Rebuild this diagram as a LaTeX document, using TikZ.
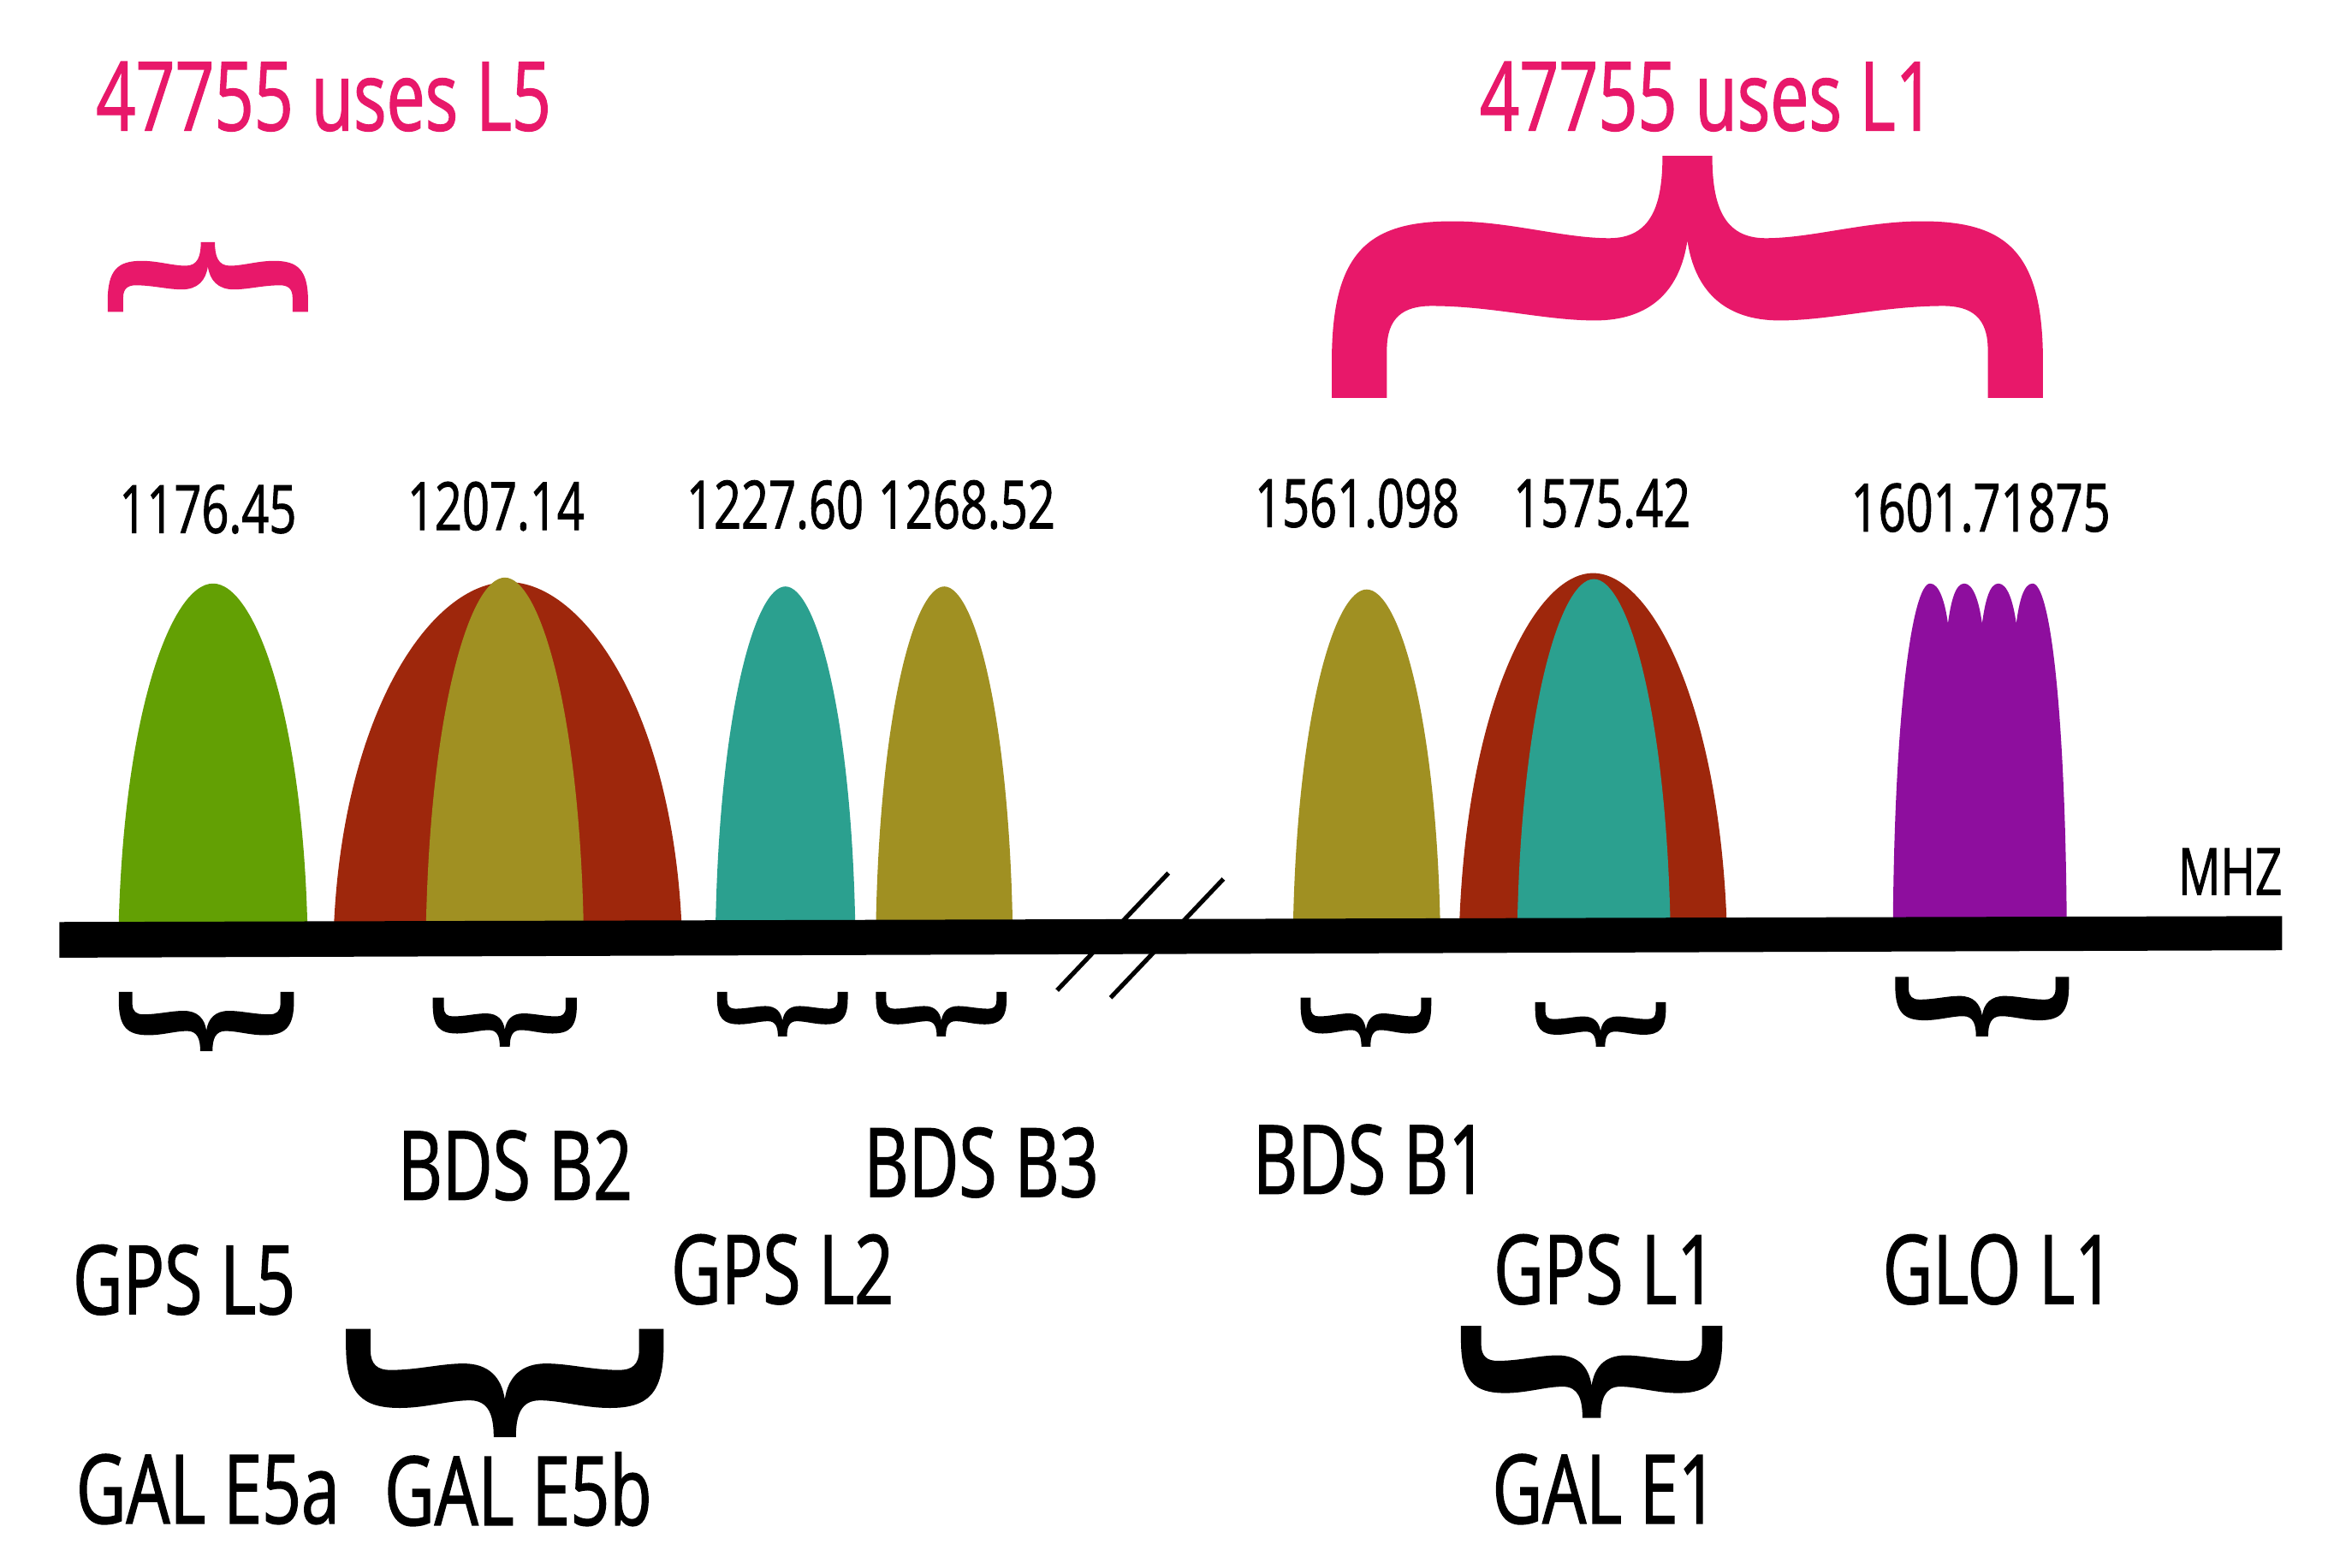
\documentclass[tikz,border=0pt]{standalone}
\usepackage{fontspec}
\setmainfont[FakeStretch=0.72,FakeBold=1.2]{Open Sans}
\usepackage{tikz}
\definecolor{bandgreen}{HTML}{63A004}
\definecolor{bandred}{HTML}{9E270C}
\definecolor{bandolive}{HTML}{A09022}
\definecolor{bandteal}{HTML}{2BA08F}
\definecolor{bandpurple}{HTML}{8E0E9E}
\definecolor{usepink}{HTML}{E8186A}

\newcommand{\bump}[4]{%
\begin{scope}[shift={(#1,-621)},xscale={#2-#1},yscale={621-#3}]
\fill [#4] (0,0) .. controls (0.03,0.62) and (0.28,1) .. (0.5,1) .. controls (0.72,1) and (0.97,0.62) .. (1,0) -- cycle;
\end{scope}}

\newcommand{\curly}[5]{%
\begin{scope}[shift={(#1,-#3)},xscale={#2},yscale={#3-#4}]
\fill [#5] (-1,0) -- (-1,0.15) .. controls (-1,0.6) and (-0.9,0.73) .. (-0.66,0.73) .. controls (-0.5,0.73) and (-0.35,0.66) .. (-0.22,0.66) .. controls (-0.1,0.66) and (-0.07,0.8) .. (-0.07,1) -- (0.07,1) .. controls (0.07,0.8) and (0.1,0.66) .. (0.22,0.66) .. controls (0.35,0.66) and (0.5,0.73) .. (0.66,0.73) .. controls (0.9,0.73) and (1,0.6) .. (1,0.15) -- (1,0) -- (0.845,0) -- (0.845,0.2) .. controls (0.845,0.33) and (0.8,0.38) .. (0.72,0.38) .. controls (0.55,0.38) and (0.4,0.32) .. (0.26,0.32) .. controls (0.1,0.32) and (0.02,0.45) .. (0,0.65) .. controls (-0.02,0.45) and (-0.1,0.32) .. (-0.26,0.32) .. controls (-0.4,0.32) and (-0.55,0.38) .. (-0.72,0.38) .. controls (-0.8,0.38) and (-0.845,0.33) .. (-0.845,0.2) -- (-0.845,0) -- cycle;
\end{scope}}

\begin{document}
\begin{tikzpicture}[x=0.2mm,y=0.2mm]
\tikzstyle{every node}+=[inner sep=0pt]
\tikzstyle{title}=[text=usepink,font=\fontsize{36.7}{40}\selectfont]
\tikzstyle{freq}=[font=\fontsize{25.5}{30}\selectfont]
\tikzstyle{sig}=[font=\fontsize{36.7}{40}\selectfont]
\tikzstyle{unit}=[font=\fontsize{25}{28}\selectfont]
\useasboundingbox (0,0) rectangle (1568,-1056);
\node [title] (useL5) at (218,-65) {47755 uses L5};
\node [title] (useL1) at (1150,-65) {47755 uses L1};
\curly{140}{67.5}{210}{163}{usepink}
\curly{1136.5}{239.5}{268}{105}{usepink}
\node [freq] (f1176) at (140,-343) {1176.45};
\node [freq] (f1207) at (334,-341) {1207.14};
\node [freq] (f1227) at (522,-340) {1227.60};
\node [freq] (f1268) at (651,-340) {1268.52};
\node [freq] (f1561) at (914,-339) {1561.098};
\node [freq] (f1575) at (1079,-339) {1575.42};
\node [freq] (f1601) at (1334,-342) {1601.71875};
\bump{80}{207}{393}{bandgreen}
\bump{225}{459}{392}{bandred}
\bump{287}{393}{389}{bandolive}
\bump{482}{576}{395}{bandteal}
\bump{590}{682}{395}{bandolive}
\bump{871}{970}{397}{bandolive}
\bump{983}{1163}{386}{bandred}
\bump{1022}{1125}{390}{bandteal}
\fill [bandpurple] (1275,-621) .. controls (1276,-480) and (1288,-393) .. (1300,-393) .. controls (1306,-393) and (1310,-405) .. (1312,-420) .. controls (1314,-405) and (1317,-393) .. (1323,-393) .. controls (1329,-393) and (1333,-405) .. (1335,-420) .. controls (1337,-405) and (1340,-393) .. (1346,-393) .. controls (1352,-393) and (1356,-405) .. (1358,-420) .. controls (1360,-405) and (1363,-393) .. (1369,-393) .. controls (1381,-393) and (1391,-480) .. (1392,-621) -- cycle;
\fill [black] (40,-621) -- (1537,-617) -- (1537,-640) -- (40,-645) -- cycle;
\draw [black,line width=0.6mm] (712,-667) -- (787,-588);
\draw [black,line width=0.6mm] (748,-672) -- (824,-592);
\node [unit] (mhz) at (1502,-587) {MHZ};
\curly{139}{59}{668}{708}{black}
\curly{340}{48.5}{672}{705}{black}
\curly{527}{44}{668}{698}{black}
\curly{634}{44}{668}{698}{black}
\curly{920}{44}{672}{705}{black}
\curly{1078}{44}{675}{705}{black}
\curly{1335}{58.5}{658}{698}{black}
\node [sig] (bdsB2) at (347,-785) {BDS B2};
\node [sig] (bdsB3) at (661,-783) {BDS B3};
\node [sig] (bdsB1) at (923,-781) {BDS B1};
\node [sig] (gpsL5) at (124,-862) {GPS L5};
\node [sig] (gpsL2) at (527,-855) {GPS L2};
\node [sig] (gpsL1) at (1081,-855) {GPS L1};
\node [sig] (gloL1) at (1346,-855) {GLO L1};
\curly{340}{107}{895}{968}{black}
\curly{1072}{88}{893}{955}{black}
\node [sig] (galE5a) at (140,-1003) {GAL E5a};
\node [sig] (galE5b) at (349,-1003) {GAL E5b};
\node [sig] (galE1) at (1081,-1003) {GAL E1};
\end{tikzpicture}
\end{document}
